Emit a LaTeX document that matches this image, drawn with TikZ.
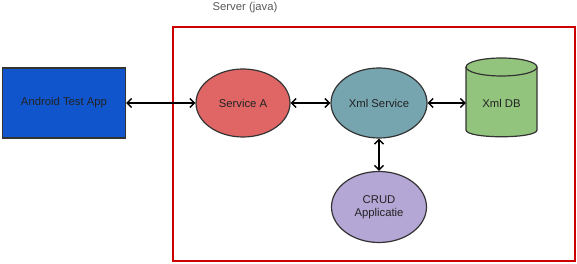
\documentclass[tikz,border=0pt]{standalone}
\usepackage{fontspec}
\setmainfont{Liberation Sans}
\usetikzlibrary{arrows.meta,shapes.geometric}
\definecolor{cblue}{HTML}{1155CC}
\definecolor{cred}{HTML}{E06666}
\definecolor{cteal}{HTML}{76A5AF}
\definecolor{cgreen}{HTML}{93C47D}
\definecolor{cpurple}{HTML}{B4A7D6}
\definecolor{cborder}{HTML}{333333}
\definecolor{cframe}{HTML}{CC0000}
\definecolor{ctext}{HTML}{222222}
\tikzset{
  lbl/.style={font=\fontsize{11.3}{13}\selectfont, text=ctext, align=center},
  svc/.style={ellipse, draw=cborder, line width=1.2pt, inner sep=0pt, lbl},
  conn/.style={line width=1.4pt, {Straight Barb[length=4.5pt,width=9pt]}-{Straight Barb[length=4.5pt,width=9pt]}},
}
\begin{document}
\begin{tikzpicture}[x=1pt,y=-1pt]
\useasboundingbox (0,0) rectangle (577,264);
% frame
\node[draw=cframe, line width=1.4pt, minimum width=402pt, minimum height=234pt, inner sep=0pt] (frame) at (374,144) {};
\node[lbl, text=black!65] (title) at (245,8) {Server (java)};
% nodes
\node[draw=cborder, fill=cblue, line width=1.2pt, minimum width=123pt, minimum height=70pt, inner sep=0pt, lbl] (app) at (64,103) {Android Test App};
\node[svc, fill=cred, minimum width=94pt, minimum height=68pt] (sa) at (243,103) {Service A};
\node[svc, fill=cteal, minimum width=96pt, minimum height=70pt] (xs) at (379,103) {Xml Service};
\node[svc, fill=cpurple, minimum width=95pt, minimum height=71pt] (crud) at (379,207) {CRUD\\Applicatie};
% cylinder
\filldraw[fill=cgreen, draw=cborder, line width=1.2pt]
  (466,67) -- (466,130) .. controls (466,139) and (537,139) .. (537,130) -- (537,67)
  arc[start angle=0, end angle=180, x radius=35.5pt, y radius=9pt] -- cycle;
\draw[cborder, line width=1.2pt] (466,67) arc[start angle=180, end angle=360, x radius=35.5pt, y radius=9pt];
\node[lbl, minimum width=71pt, minimum height=70pt, inner sep=0pt] (db) at (501.5,103) {Xml DB};
% connectors
\draw[conn] (app) -- (sa);
\draw[conn] (sa) -- (xs);
\draw[conn] (xs) -- (db.west |- xs);
\draw[conn] (xs) -- (crud);
\end{tikzpicture}
\end{document}
